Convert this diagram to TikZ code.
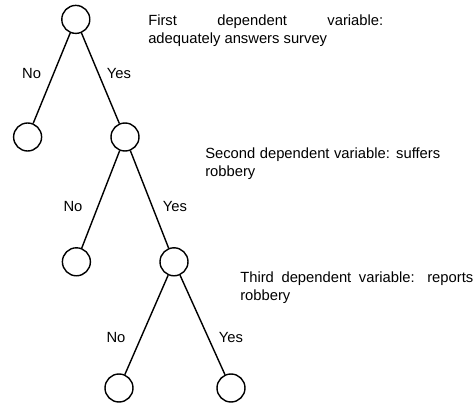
\documentclass[tikz,border=0pt]{standalone}
\usepackage{fontspec}
\setmainfont{Liberation Sans}

\begin{document}
\begin{tikzpicture}[every node/.style={font=\fontsize{10.5}{12.5}\selectfont}]
  \useasboundingbox (0,0) rectangle (11.85,10.125);
  \begin{scope}[every node/.style={circle,draw,line width=1pt,minimum size=0.7cm,inner sep=0pt}]
    \node (A) at (1.895,9.64)  {};
    \node (B) at (0.69,6.7)    {};
    \node (C) at (3.125,6.7)   {};
    \node (D) at (1.91,3.58)   {};
    \node (E) at (4.35,3.58)   {};
    \node (F) at (2.975,0.425) {};
    \node (G) at (5.775,0.425) {};
  \end{scope}
  \begin{scope}[line width=1pt]
    \draw (A) -- (B);
    \draw (A) -- (C);
    \draw (C) -- (D);
    \draw (C) -- (E);
    \draw (E) -- (F);
    \draw (E) -- (G);
  \end{scope}
  \node (noA)  at (0.79,8.3)   {No};
  \node (yesA) at (2.975,8.3)  {Yes};
  \node (noB)  at (1.825,4.975) {No};
  \node (yesB) at (4.375,4.975) {Yes};
  \node (noC)  at (2.9,1.7)    {No};
  \node (yesC) at (5.775,1.7)  {Yes};
  \begin{scope}[every node/.append style={anchor=north west,inner sep=0pt,align=justify}]
    \node[text width=5.875cm] (varA) at (3.7,9.75)
      {First dependent variable:\linebreak adequately answers survey};
    \node[text width=5.875cm] (varB) at (5.125,6.425)
      {Second dependent variable: suffers\linebreak robbery};
    \node[text width=5.825cm] (varC) at (6.0,3.325)
      {Third dependent variable: reports\linebreak robbery};
  \end{scope}
\end{tikzpicture}
\end{document}
